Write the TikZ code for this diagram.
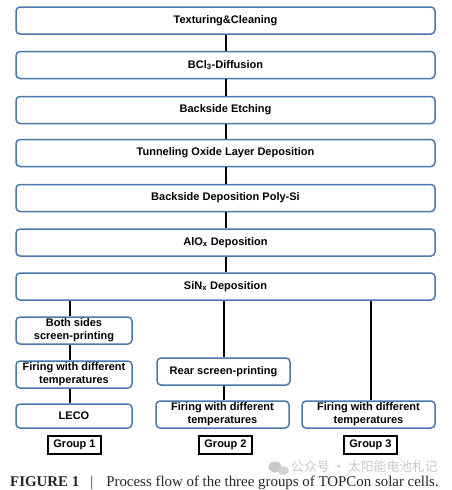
\documentclass[tikz,border=0pt]{standalone}
\usepackage{fontspec}
\setmainfont{Liberation Serif}
\setsansfont{Liberation Sans}
\newfontfamily\cjk{Noto Sans CJK SC}
\definecolor{boxblue}{HTML}{4A78AA}
\definecolor{wmgray}{HTML}{C8C8C8}
\begin{document}
\begin{tikzpicture}[x=1pt,y=-1pt,
  procbox/.style={draw=boxblue, line width=1.5pt, rounded corners=4pt, fill=white,
    font=\sffamily\bfseries\fontsize{11}{13}\selectfont, align=center,
    inner sep=1pt, minimum height=27pt},
  mainbox/.style={procbox, minimum width=419pt},
  smallbox/.style={procbox, minimum width=116pt},
  midbox/.style={procbox, minimum width=133pt},
  grpbox/.style={draw=black, line width=1.4pt, font=\sffamily\bfseries\fontsize{11}{13}\selectfont,
    minimum width=53pt, minimum height=18pt, inner sep=1pt},
  link/.style={draw=black, line width=1.8pt}]
\useasboundingbox (0,0) rectangle (451,490);

\node[mainbox] (m1) at (225.5,20.5) {Texturing\&Cleaning};
\node[mainbox] (m2) at (225.5,65) {BCl\textsubscript{3}-Diffusion};
\node[mainbox] (m3) at (225.5,110) {Backside Etching};
\node[mainbox] (m4) at (225.5,153) {Tunneling Oxide Layer Deposition};
\node[mainbox] (m5) at (225.5,198) {Backside Deposition Poly-Si};
\node[mainbox] (m6) at (225.5,242.5) {AlO\textsubscript{x} Deposition};
\node[mainbox] (m7) at (225.5,286.5) {SiN\textsubscript{x} Deposition};

\coordinate (x0) at (226,0);
\foreach \a/\b in {m1/m2,m2/m3,m3/m4,m4/m5,m5/m6,m6/m7}
  \draw[link] (\a.south -| x0) -- (\b.north -| x0);

% Group 1
\node[smallbox] (g1a) at (74,330.5) {Both sides\\screen-printing};
\node[smallbox] (g1b) at (74,374.5) {Firing with different\\temperatures};
\node[smallbox, minimum height=24pt] (g1c) at (74,416) {LECO};
\coordinate (x1) at (70,0);
\draw[link] (m7.south -| x1) -- (g1a.north -| x1);
\draw[link] (g1a.south -| x1) -- (g1b.north -| x1);
\draw[link] (g1b.south -| x1) -- (g1c.north -| x1);

% Group 2
\node[midbox] (g2a) at (223.5,371.5) {Rear screen-printing};
\node[midbox] (g2b) at (222.5,414.5) {Firing with different\\temperatures};
\coordinate (x2) at (224,0);
\draw[link] (m7.south -| x2) -- (g2a.north -| x2);
\draw[link] (g2a.south -| x2) -- (g2b.north -| x2);

% Group 3
\node[midbox] (g3a) at (368.5,414.5) {Firing with different\\temperatures};
\coordinate (x3) at (371,0);
\draw[link] (m7.south -| x3) -- (g3a.north -| x3);

% Group labels
\node[grpbox] (l1) at (74.5,445) {Group 1};
\node[grpbox] (l2) at (225.5,445) {Group 2};
\node[grpbox] (l3) at (370.5,445) {Group 3};

% watermark
\fill[wmgray] (275,467) ellipse (6.5pt and 5.5pt);
\fill[wmgray!80] (283.5,470.5) ellipse (5.5pt and 4.5pt);
\node[anchor=west, text=wmgray, font=\cjk\fontsize{12.8}{14}\selectfont, inner sep=0pt] (wm) at (291,467) {公众号 · 太阳能电池札记};

% caption
\node[anchor=base west, inner sep=0pt, font=\fontsize{14.9}{16}\selectfont, text=black!85] (cap) at (10,486)
  {\textbf{FIGURE 1}\hspace{11pt}|\hspace{13pt}Process flow of the three groups of TOPCon solar cells.};
\end{tikzpicture}
\end{document}
